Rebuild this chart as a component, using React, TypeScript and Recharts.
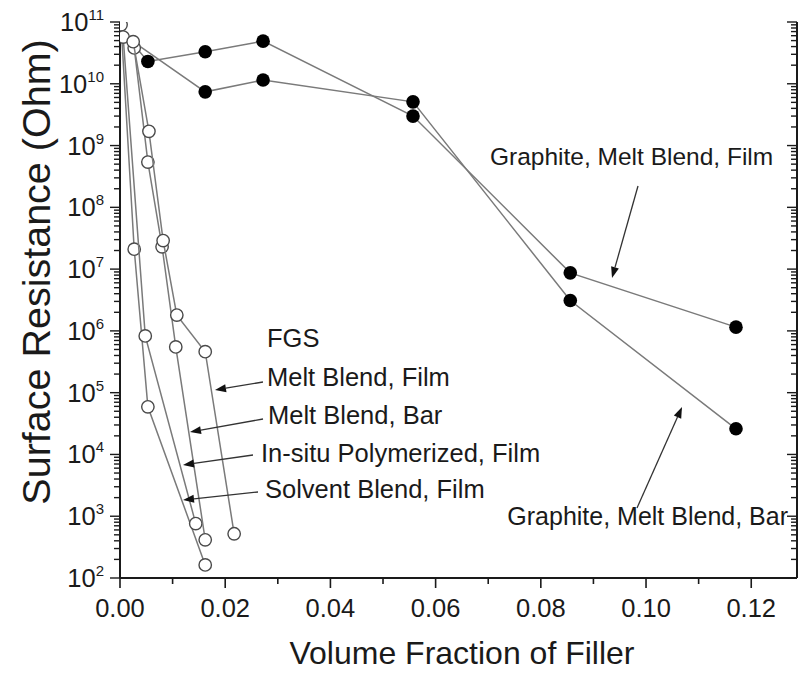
import React from 'react';
import { ScatterChart, Scatter, XAxis, YAxis } from 'recharts';

// ---------- data ----------
const xMajorTicks = [0, 0.02, 0.04, 0.06, 0.08, 0.1, 0.12];
const xMinorTicks = [0.01, 0.03, 0.05, 0.07, 0.09, 0.11];
const yMajorTicks = [1e2, 1e3, 1e4, 1e5, 1e6, 1e7, 1e8, 1e9, 1e10, 1e11];
const yMinorMultipliers = [2, 3, 4, 5, 6, 7, 8, 9];

// Graphite (filled circles)
const graphiteFilm = [
  { x: 0.0025, y: 4.4e10 },
  { x: 0.0053, y: 2.3e10 },
  { x: 0.0162, y: 3.3e10 },
  { x: 0.0272, y: 4.9e10 },
  { x: 0.0557, y: 3.0e9 },
  { x: 0.0856, y: 8.7e6 },
  { x: 0.1171, y: 1.15e6 },
];
const graphiteBar = [
  { x: 0.0025, y: 4.8e10 },
  { x: 0.0162, y: 7.4e9 },
  { x: 0.0272, y: 1.15e10 },
  { x: 0.0557, y: 5.1e9 },
  { x: 0.0856, y: 3.1e6 },
  { x: 0.1171, y: 2.6e4 },
];

// FGS (open circles)
const fgsMeltFilm = [
  { x: 0.0025, y: 4.8e10 },
  { x: 0.0055, y: 1.7e9 },
  { x: 0.0082, y: 2.9e7 },
  { x: 0.0108, y: 1.8e6 },
  { x: 0.0162, y: 4.6e5 },
  { x: 0.0217, y: 520 },
];
const fgsMeltBar = [
  { x: 0.0027, y: 3.8e10 },
  { x: 0.0053, y: 5.4e8 },
  { x: 0.008, y: 2.3e7 },
  { x: 0.0106, y: 5.5e5 },
  { x: 0.0162, y: 415 },
];
const fgsInSitu = [
  { x: 0.0006, y: 5.7e10 },
  { x: 0.0048, y: 8.3e5 },
  { x: 0.0144, y: 760 },
];
const fgsSolvent = [
  { x: 0.0002, y: 9e10 },
  { x: 0.0027, y: 2.1e7 },
  { x: 0.0053, y: 5.9e4 },
  { x: 0.0162, y: 163 },
];

const hiddenStarts = [graphiteFilm[0], graphiteBar[0]];

// ---------- helpers ----------
const FONT = '"Liberation Sans", Arial, Helvetica, sans-serif';
const INK = '#1a1a1a';
const LINE = '#7a7a7a';

const yAllTicks: number[] = [];
yMajorTicks.forEach((d, i) => {
  yAllTicks.push(d);
  if (i < yMajorTicks.length - 1) yMinorMultipliers.forEach((m) => yAllTicks.push(d * m));
});
const xAllTicks = [...xMajorTicks, ...xMinorTicks].sort((a, b) => a - b);

const isMajorX = (v: number) => xMajorTicks.some((t) => Math.abs(t - v) < 1e-9);
const isMajorY = (v: number) => {
  const l = Math.log10(v);
  return Math.abs(l - Math.round(l)) < 1e-6;
};

const BottomTick = (props: any) => {
  const { x, y, payload } = props;
  const major = isMajorX(payload.value);
  return (
    <g>
      <line x1={x} x2={x} y1={y} y2={y + (major ? 10 : 6)} stroke={INK} strokeWidth={1.6} />
      {major && (
        <text x={x} y={y + 39} textAnchor="middle" fontSize={25.5} fill={INK} fontFamily={FONT}>
          {payload.value.toFixed(2)}
        </text>
      )}
    </g>
  );
};

const TopTick = (props: any) => {
  const { x, y, payload } = props;
  const major = isMajorX(payload.value);
  return <line x1={x} x2={x} y1={y} y2={y + (major ? 10 : 6)} stroke={INK} strokeWidth={1.6} />;
};

const LeftTick = (props: any) => {
  const { x, y, payload } = props;
  const major = isMajorY(payload.value);
  const exp = Math.round(Math.log10(payload.value));
  return (
    <g>
      <line x1={x - (major ? 10 : 6)} x2={x} y1={y} y2={y} stroke={INK} strokeWidth={1.4} />
      {major && (
        <text x={x - 16} y={y + 9} textAnchor="end" fontSize={25.5} fill={INK} fontFamily={FONT}>
          10
          <tspan dy={-11} fontSize={15}>
            {exp}
          </tspan>
        </text>
      )}
    </g>
  );
};

const RightTick = (props: any) => {
  const { x, y, payload } = props;
  const major = isMajorY(payload.value);
  return <line x1={x - (major ? 10 : 6)} x2={x} y1={y} y2={y} stroke={INK} strokeWidth={1.4} />;
};

const FilledDot = (props: any) => {
  const { cx, cy, payload } = props;
  if (cx == null || cy == null) return <g />;
  if (hiddenStarts.some((h) => h.x === payload?.x && h.y === payload?.y)) return <g />;
  return <circle cx={cx} cy={cy} r={6.8} fill="#000" />;
};

const OpenDot = (props: any) => {
  const { cx, cy } = props;
  if (cx == null || cy == null) return <g />;
  return <circle cx={cx} cy={cy} r={6.2} fill="#fff" stroke="#4a4a4a" strokeWidth={1.4} />;
};

const Arrow = ({ from, to }: { from: [number, number]; to: [number, number] }) => {
  const [x1, y1] = from;
  const [x2, y2] = to;
  const dx = x2 - x1;
  const dy = y2 - y1;
  const len = Math.sqrt(dx * dx + dy * dy);
  const ux = dx / len;
  const uy = dy / len;
  const hl = 11;
  const hw = 4;
  const bx = x2 - ux * hl;
  const by = y2 - uy * hl;
  const p1 = `${bx - uy * hw},${by + ux * hw}`;
  const p2 = `${bx + uy * hw},${by - ux * hw}`;
  return (
    <g>
      <line x1={x1} y1={y1} x2={bx} y2={by} stroke="#333" strokeWidth={1.3} />
      <polygon points={`${x2},${y2} ${p1} ${p2}`} fill="#111" />
    </g>
  );
};

const lineStyle = { stroke: LINE, strokeWidth: 1.5 };

export default function App() {
  return (
    <div style={{ position: 'absolute', left: 0, top: 0, width: 799, height: 673, background: '#fff' }}>
      <ScatterChart width={799} height={673} margin={{ top: 22, right: 0, bottom: 35, left: 0 }}>
        <XAxis
          xAxisId="b"
          type="number"
          dataKey="x"
          domain={[0, 0.1287]}
          allowDataOverflow
          ticks={xAllTicks}
          interval={0}
          tick={<BottomTick />}
          tickLine={false}
          tickSize={0}
          tickMargin={0}
          height={60}
          axisLine={{ stroke: INK, strokeWidth: 2 }}
        />
        <XAxis
          xAxisId="t"
          orientation="top"
          type="number"
          dataKey="x"
          domain={[0, 0.1287]}
          allowDataOverflow
          ticks={xAllTicks}
          interval={0}
          tick={<TopTick />}
          tickLine={false}
          tickSize={0}
          tickMargin={0}
          height={0}
          axisLine={{ stroke: INK, strokeWidth: 2 }}
        />
        <YAxis
          yAxisId="l"
          type="number"
          dataKey="y"
          scale="log"
          domain={[1e2, 1e11]}
          allowDataOverflow
          ticks={yAllTicks}
          interval={0}
          tick={<LeftTick />}
          tickLine={false}
          tickSize={0}
          tickMargin={0}
          width={120}
          axisLine={{ stroke: INK, strokeWidth: 2 }}
        />
        <YAxis
          yAxisId="r"
          orientation="right"
          type="number"
          dataKey="y"
          scale="log"
          domain={[1e2, 1e11]}
          allowDataOverflow
          ticks={yAllTicks}
          interval={0}
          tick={<RightTick />}
          tickLine={false}
          tickSize={0}
          tickMargin={0}
          width={2}
          axisLine={{ stroke: INK, strokeWidth: 2 }}
        />
        <Scatter xAxisId="b" yAxisId="l" data={graphiteFilm} line={lineStyle} lineType="joint" shape={<FilledDot />} isAnimationActive={false} />
        <Scatter xAxisId="b" yAxisId="l" data={graphiteBar} line={lineStyle} lineType="joint" shape={<FilledDot />} isAnimationActive={false} />
        <Scatter xAxisId="b" yAxisId="l" data={fgsSolvent} line={lineStyle} lineType="joint" shape={<OpenDot />} isAnimationActive={false} />
        <Scatter xAxisId="b" yAxisId="l" data={fgsInSitu} line={lineStyle} lineType="joint" shape={<OpenDot />} isAnimationActive={false} />
        <Scatter xAxisId="b" yAxisId="l" data={fgsMeltBar} line={lineStyle} lineType="joint" shape={<OpenDot />} isAnimationActive={false} />
        <Scatter xAxisId="b" yAxisId="l" data={fgsMeltFilm} line={lineStyle} lineType="joint" shape={<OpenDot />} isAnimationActive={false} />
      </ScatterChart>
      <svg
        width={799}
        height={673}
        style={{ position: 'absolute', left: 0, top: 0, pointerEvents: 'none' }}
        fontFamily={FONT}
      >
        <text transform="translate(50,272) rotate(-90)" textAnchor="middle" fontSize={39.5} fill={INK}>
          Surface Resistance (Ohm)
        </text>
        <text x={462} y={664} textAnchor="middle" fontSize={32} fill={INK}>
          Volume Fraction of Filler
        </text>

        <text x={267} y={347} fontSize={25.5} fill={INK}>FGS</text>
        <text x={267} y={386} fontSize={25.5} fill={INK}>Melt Blend, Film</text>
        <text x={268} y={424} fontSize={25.5} fill={INK}>Melt Blend, Bar</text>
        <text x={261} y={462} fontSize={25.5} fill={INK}>In-situ Polymerized, Film</text>
        <text x={265} y={498} fontSize={25.5} fill={INK}>Solvent Blend, Film</text>
        <Arrow from={[263, 382]} to={[215, 390]} />
        <Arrow from={[263, 419]} to={[190, 432]} />
        <Arrow from={[253, 455]} to={[183, 465]} />
        <Arrow from={[258, 492]} to={[183, 500]} />

        <text x={490} y={165} fontSize={24.5} fill={INK}>Graphite, Melt Blend, Film</text>
        <Arrow from={[638, 186]} to={[612, 278]} />
        <text x={788} y={525} textAnchor="end" fontSize={25} fill={INK}>Graphite, Melt Blend, Bar</text>
        <Arrow from={[637, 508]} to={[682, 407]} />
      </svg>
    </div>
  );
}
